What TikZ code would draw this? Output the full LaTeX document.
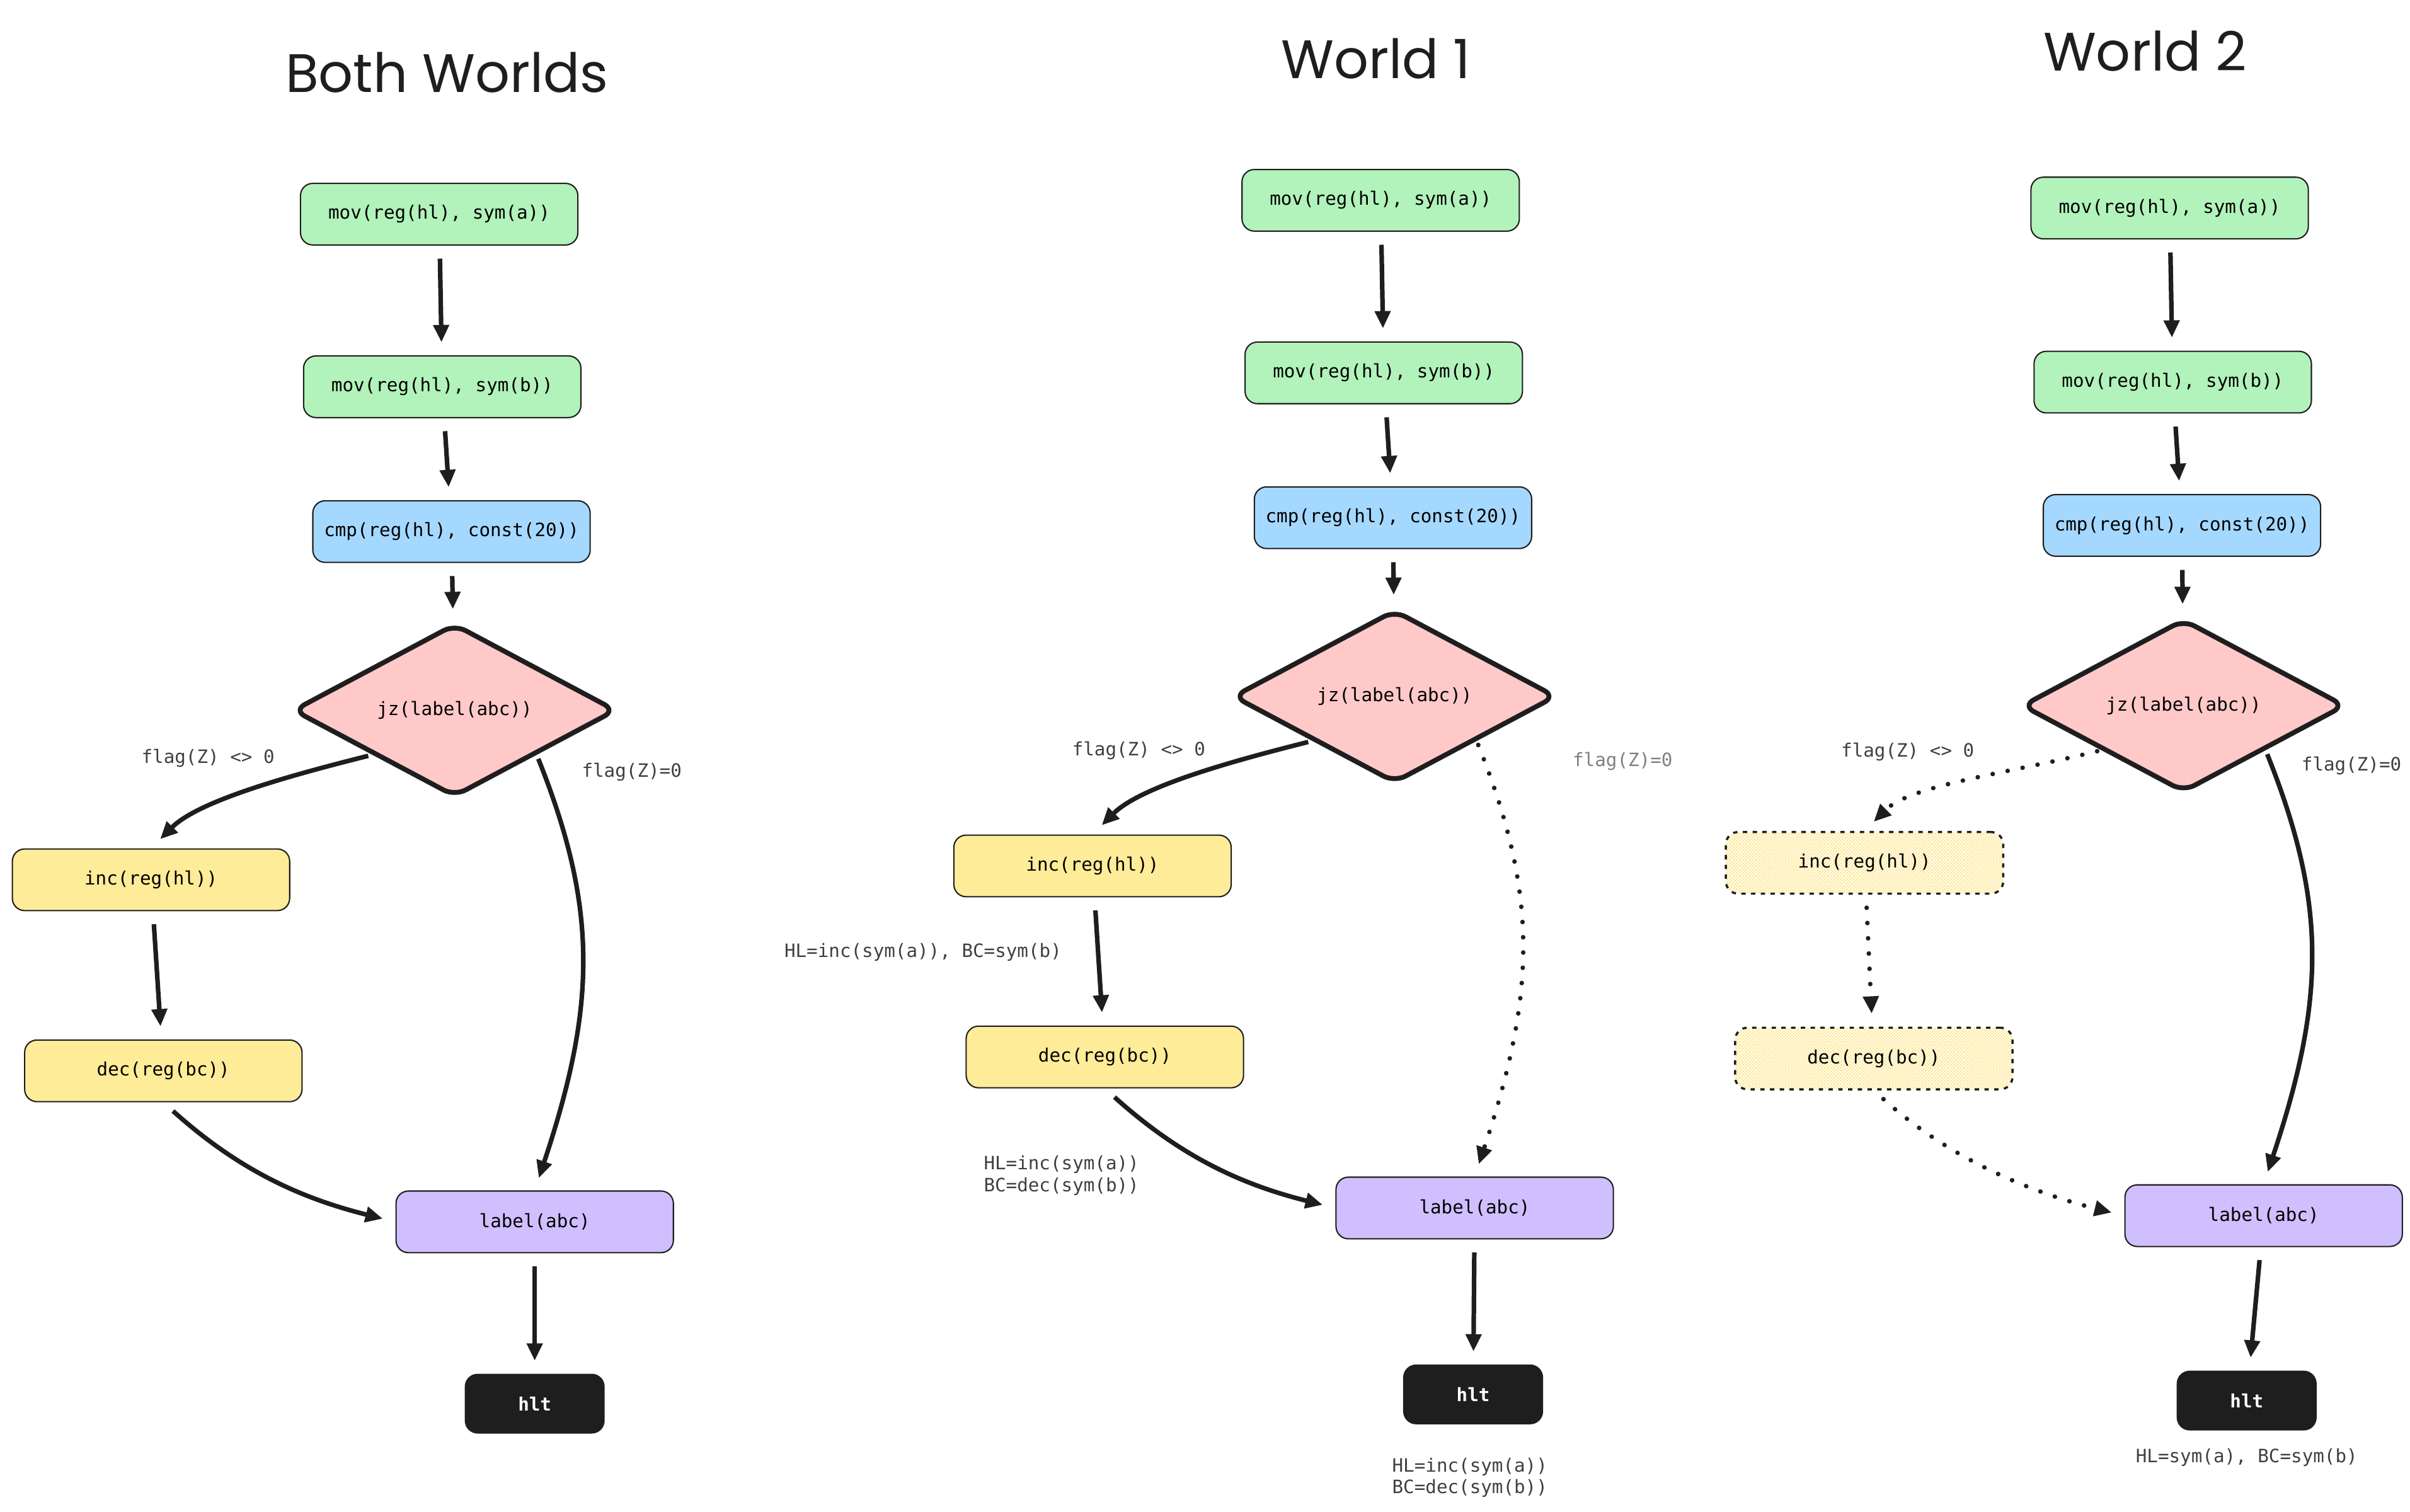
\documentclass[tikz,border=0pt]{standalone}
\usepackage{fontspec}
\setmainfont{Poppins}
\newfontfamily\codefont{DejaVu Sans Mono}
\usetikzlibrary{arrows.meta,patterns}
\definecolor{ink}{HTML}{1E1E1E}
\definecolor{grn}{HTML}{B2F2BB}
\definecolor{blu}{HTML}{A5D8FF}
\definecolor{pnk}{HTML}{FFC9C9}
\definecolor{ylw}{HTML}{FFEC99}
\definecolor{prp}{HTML}{D0BFFF}
\definecolor{hatch}{HTML}{FFE27A}
\tikzset{>={Triangle[length=16pt,width=14pt]}}
\tikzset{
  box/.style = {draw=ink,line width=1.2pt,rounded corners=0.4cm,
    minimum width=9cm,minimum height=2cm,font=\codefont\fontsize{17}{20}\selectfont},
  ghost/.style = {box,fill=none,pattern=crosshatch,pattern color=hatch,
    dash pattern=on 4pt off 5pt,line width=2pt},
  dec/.style = {draw=ink,line width=4.5pt,fill=pnk,shape=diamond,
    minimum width=10.5cm,minimum height=4.3cm,inner sep=0pt,rounded corners=0.4cm,
    font=\codefont\fontsize{17}{20}\selectfont},
  stop/.style = {box,fill=ink,text=white,minimum width=4.5cm,minimum height=1.9cm,
    font=\codefont\bfseries\fontsize{17}{20}\selectfont},
  arr/.style = {->,line width=4.2pt,draw=ink,shorten <=12pt,shorten >=12pt},
  dot/.style = {arr,line cap=round,dash pattern=on 0.1pt off 14pt},
  note/.style = {font=\codefont\fontsize{17}{20}\selectfont,text=ink!85,align=left},
  title/.style = {font=\fontsize{50}{56}\selectfont,text=ink}
}
\usetikzlibrary{shapes.geometric}
\begin{document}
\begin{tikzpicture}[x=0.05cm,y=0.05cm]
  \useasboundingbox (0,0) rectangle (1564,-981);
  % both worlds
  \node[title] (t1) at (290,-47) {Both Worlds};
  \node[box,fill=grn] (m1a) at (285,-139) {mov(reg(hl), sym(a))};
  \node[box,fill=grn] (m1b) at (287,-251) {mov(reg(hl), sym(b))};
  \node[box,fill=blu] (c1) at (293,-345) {cmp(reg(hl), const(20))};
  \node[dec] (j1) at (295,-461) {jz(label(abc))};
  \node[box,fill=ylw] (i1) at (98,-571) {inc(reg(hl))};
  \node[box,fill=ylw] (d1) at (106,-695) {dec(reg(bc))};
  \node[box,fill=prp] (l1) at (347,-793) {label(abc)};
  \node[stop] (h1) at (347,-911) {hlt};
  \node[note] (f1a) at (135,-492) {flag(Z) <> 0};
  \node[note] (f1b) at (410,-501) {flag(Z)=0};
  \draw[arr] (m1a) -- (m1b);
  \draw[arr] (m1b) -- (c1);
  \draw[arr] (c1) -- (j1);
  \draw[arr,shorten <=4pt] (j1.south west) .. controls +(-60,-15) and +(30,30) .. (i1.north);
  \draw[arr,shorten <=4pt] (j1.south east) .. controls +(40,-100) and +(40,120) .. (l1.north);
  \draw[arr] (i1) -- (d1);
  \draw[arr] (d1.south) .. controls +(50,-45) and +(-60,15) .. (l1.west);
  \draw[arr] (l1) -- (h1);
  % world 1
  \node[title] (t2) at (893,-38) {World 1};
  \node[box,fill=grn] (m2a) at (896,-130) {mov(reg(hl), sym(a))};
  \node[box,fill=grn] (m2b) at (898,-242) {mov(reg(hl), sym(b))};
  \node[box,fill=blu] (c2) at (904,-336) {cmp(reg(hl), const(20))};
  \node[dec] (j2) at (905,-452) {jz(label(abc))};
  \node[box,fill=ylw] (i2) at (709,-562) {inc(reg(hl))};
  \node[box,fill=ylw] (d2) at (717,-686) {dec(reg(bc))};
  \node[box,fill=prp] (l2) at (957,-784) {label(abc)};
  \node[stop] (h2) at (956,-905) {hlt};
  \node[note] (f2a) at (739,-487) {flag(Z) <> 0};
  \node[note,text=gray] (f2b) at (1053,-494) {flag(Z)=0};
  \node[note] (s2a) at (599,-618) {HL=inc(sym(a)), BC=sym(b)};
  \node[note,anchor=west] (s2b) at (636,-763) {HL=inc(sym(a))\\BC=dec(sym(b))};
  \node[note,anchor=west] (s2c) at (901,-959) {HL=inc(sym(a))\\BC=dec(sym(b))};
  \draw[arr] (m2a) -- (m2b);
  \draw[arr] (m2b) -- (c2);
  \draw[arr] (c2) -- (j2);
  \draw[arr,shorten <=4pt] (j2.south west) .. controls +(-60,-15) and +(30,30) .. (i2.north);
  \draw[dot,shorten <=4pt] (j2.south east) .. controls +(40,-100) and +(40,120) .. (l2.north);
  \draw[arr] (i2) -- (d2);
  \draw[arr] (d2.south) .. controls +(50,-45) and +(-60,15) .. (l2.west);
  \draw[arr] (l2) -- (h2);
  % world 2
  \node[title] (t3) at (1392,-33) {World 2};
  \node[box,fill=grn] (m3a) at (1408,-135) {mov(reg(hl), sym(a))};
  \node[box,fill=grn] (m3b) at (1410,-248) {mov(reg(hl), sym(b))};
  \node[box,fill=blu] (c3) at (1416,-341) {cmp(reg(hl), const(20))};
  \node[dec] (j3) at (1417,-458) {jz(label(abc))};
  \node[ghost] (i3) at (1210,-560) {inc(reg(hl))};
  \node[ghost] (d3) at (1216,-687) {dec(reg(bc))};
  \node[box,fill=prp] (l3) at (1469,-789) {label(abc)};
  \node[stop] (h3) at (1458,-909) {hlt};
  \node[note] (f3a) at (1238,-488) {flag(Z) <> 0};
  \node[note] (f3b) at (1526,-497) {flag(Z)=0};
  \node[note] (s3) at (1458,-946) {HL=sym(a), BC=sym(b)};
  \draw[arr] (m3a) -- (m3b);
  \draw[arr] (m3b) -- (c3);
  \draw[arr] (c3) -- (j3);
  \draw[dot,shorten <=4pt] (j3.south west) .. controls +(-60,-15) and +(30,30) .. (i3.north);
  \draw[arr,shorten <=4pt] (j3.south east) .. controls +(40,-100) and +(40,120) .. (l3.north);
  \draw[dot] (i3) -- (d3);
  \draw[dot] (d3.south) .. controls +(50,-45) and +(-60,15) .. (l3.west);
  \draw[arr] (l3) -- (h3);
\end{tikzpicture}
\end{document}
